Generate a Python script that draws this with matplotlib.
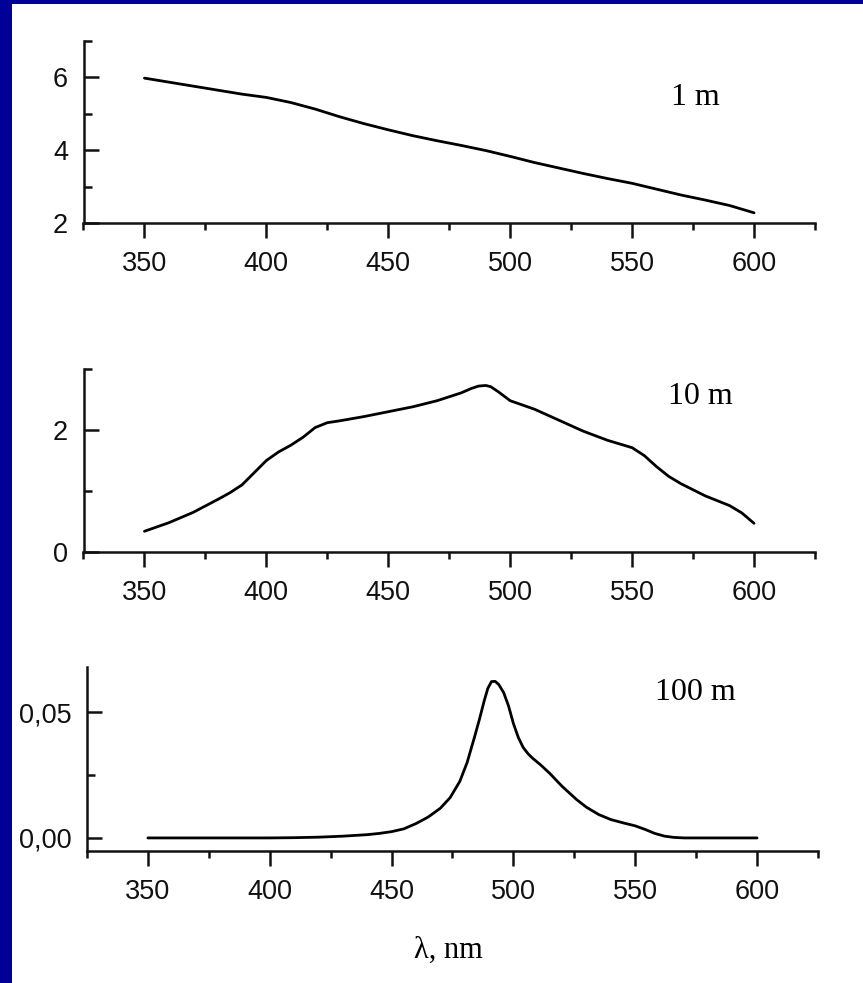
import matplotlib.pyplot as plt
import numpy as np
from matplotlib.patches import Rectangle
from matplotlib.ticker import MultipleLocator, FuncFormatter

# ==================== Data ====================
# spectra at three depths, wavelength in nm
wl_1m = [350, 360, 370, 380, 390, 400, 410, 420, 430, 440, 450, 460, 470,
         480, 490, 500, 510, 520, 530, 540, 550, 560, 570, 580, 590, 600]
val_1m = [5.98, 5.87, 5.76, 5.65, 5.54, 5.45, 5.31, 5.13, 4.92, 4.73, 4.56,
          4.40, 4.26, 4.13, 3.99, 3.83, 3.66, 3.51, 3.36, 3.22, 3.09, 2.93,
          2.77, 2.63, 2.48, 2.28]

wl_10m = [350, 360, 370, 380, 385, 390, 395, 400, 405, 410, 415, 420, 425,
          430, 440, 450, 460, 470, 480, 484, 487, 490, 492, 495, 500, 505,
          510, 520, 530, 540, 550, 555, 560, 565, 570, 580, 590, 595, 600]
val_10m = [0.34, 0.48, 0.65, 0.86, 0.97, 1.10, 1.30, 1.50, 1.64, 1.75, 1.88,
           2.04, 2.12, 2.15, 2.22, 2.30, 2.38, 2.48, 2.61, 2.68, 2.72, 2.73,
           2.71, 2.63, 2.48, 2.41, 2.34, 2.16, 1.98, 1.83, 1.71, 1.58, 1.40,
           1.24, 1.12, 0.92, 0.76, 0.64, 0.47]

wl_100m = [350, 360, 370, 380, 390, 400, 410, 420, 430, 440, 445, 450, 455,
           460, 465, 470, 474, 478, 481, 484, 486, 488, 489.5, 491, 492.5,
           494, 496, 498, 500, 502, 504, 506, 508, 511, 515, 520, 526, 530,
           535, 540, 545, 550, 554, 558, 562, 566, 570, 580, 590, 600]
val_100m = [0, 0, 0, 0, 0, 0, 0.0001, 0.0003, 0.0007, 0.0013, 0.0018, 0.0025,
            0.0036, 0.0057, 0.0083, 0.0118, 0.0160, 0.0225, 0.0300, 0.0400,
            0.0470, 0.0545, 0.0595, 0.0622, 0.0623, 0.0610, 0.0578, 0.0525,
            0.0455, 0.0400, 0.0360, 0.0335, 0.0316, 0.0292, 0.0256, 0.0205,
            0.0152, 0.0122, 0.0093, 0.0073, 0.0060, 0.0048, 0.0034, 0.0018,
            0.0007, 0.0002, 0, 0, 0, 0]

depth_labels = ["1 m", "10 m", "100 m"]

# ==================== Figure ====================
fig = plt.figure(figsize=(8.63, 9.83), dpi=100, facecolor='#000099')
fig.add_artist(Rectangle((12 / 863, 0), 851 / 863, 979 / 983,
                         transform=fig.transFigure, facecolor='white',
                         edgecolor='none', zorder=0))

W, H = 863, 983


def make_axes(left, right, top, bottom):
    return fig.add_axes([left / W, 1 - bottom / H, (right - left) / W, (bottom - top) / H])


ax1 = make_axes(83.5, 815, 41, 223)
ax2 = make_axes(83.5, 815, 369, 552)
ax3 = make_axes(87, 818, 667, 851)

sans = 'Liberation Sans'
serif = 'Liberation Serif'

panels = [
    (ax1, wl_1m, val_1m, (2, 7), 2, 1, (0.836, 0.687)),
    (ax2, wl_10m, val_10m, (0, 3), 2, 1, (0.843, 0.847)),
    (ax3, wl_100m, val_100m, (-0.0052, 0.068), 0.05, 0.025, (0.832, 0.859)),
]

for (ax, x, y, ylim, ymaj, ymin, lbl_pos), label in zip(panels, depth_labels):
    ax.set_facecolor('none')
    ax.plot(x, y, color='black', linewidth=2.0, solid_joinstyle='round',
            solid_capstyle='round')
    ax.set_xlim(325, 625)
    ax.set_ylim(*ylim)
    for side in ('top', 'right'):
        ax.spines[side].set_visible(False)
    for side in ('left', 'bottom'):
        ax.spines[side].set_linewidth(1.8)
        ax.spines[side].set_color('#111111')

    ax.xaxis.set_major_locator(MultipleLocator(50))
    ax.xaxis.set_minor_locator(MultipleLocator(25))
    ax.yaxis.set_major_locator(MultipleLocator(ymaj))
    ax.yaxis.set_minor_locator(MultipleLocator(ymin))

    ax.tick_params(axis='x', which='major', direction='out', length=11, width=1.8,
                   pad=9, labelsize=19.5, colors='#111111')
    ax.tick_params(axis='x', which='minor', direction='out', length=5, width=1.8,
                   colors='#111111')
    ax.tick_params(axis='y', which='major', direction='in', length=11, width=1.8,
                   pad=11, labelsize=19.5, colors='#111111')
    ax.tick_params(axis='y', which='minor', direction='in', length=5.5, width=1.8,
                   colors='#111111')
    for t in ax.get_xticklabels() + ax.get_yticklabels():
        t.set_fontfamily(sans)

    ax.text(lbl_pos[0], lbl_pos[1], label, transform=ax.transAxes,
            ha='center', va='center', fontsize=23, family=serif)

ax3.yaxis.set_major_formatter(FuncFormatter(lambda v, p: f"{v:.2f}".replace('.', ',')))
for t in ax3.get_yticklabels():
    t.set_fontfamily(sans)

ax3.set_xlabel("λ, nm", fontsize=22, family=serif)
ax3.xaxis.set_label_coords(0.495, -0.46)
ax3.xaxis.label.set_va('top')

fig.savefig('out.png', dpi=100, facecolor=fig.get_facecolor())
